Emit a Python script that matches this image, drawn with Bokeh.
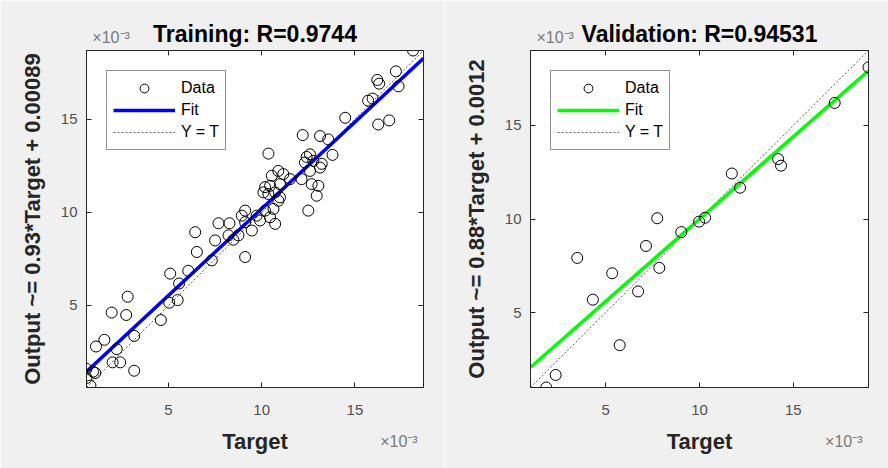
from bokeh.plotting import figure
from bokeh.models import Range1d, FixedTicker, LinearAxis, Legend, LegendItem
from bokeh.layouts import row
from bokeh.embed import file_html
from bokeh.resources import INLINE

# all values are in units of 1e-3
train_target = [18.12, 17.20, 16.20, 16.30, 17.34, 15.71, 15.95, 16.25, 16.84, 14.48,
                12.20, 13.13, 13.57, 10.36, 12.59, 12.41, 13.80, 12.32, 12.77, 13.22,
                13.13, 12.59, 10.89, 11.16, 10.54, 11.52, 12.14, 10.18, 10.45, 10.98,
                10.09, 12.68, 13.04, 12.95, 10.72, 10.98, 12.50, 10.36, 10.63, 10.89,
                10.45, 9.11, 9.73, 10.18, 9.91, 10.72, 8.93, 9.11, 9.47, 7.68,
                8.27, 8.48, 8.22, 8.75, 7.50, 6.43, 6.52, 7.32, 9.11, 6.06,
                5.09, 5.57, 5.49, 5.04, 4.59, 2.81, 1.95, 2.73, 3.16, 1.56,
                1.11, 2.22, 2.00, 2.41, 3.16, 0.60, 0.60, 0.81, 1.07, 0.95]
train_output = [18.68, 17.56, 17.10, 16.90, 16.76, 15.99, 16.10, 14.71, 14.93, 15.07,
                14.14, 14.09, 13.91, 13.15, 13.11, 12.97, 13.08, 12.67, 12.76, 12.60,
                12.40, 12.22, 12.22, 12.05, 11.96, 11.78, 11.78, 11.35, 11.42, 11.51,
                11.07, 11.51, 11.42, 10.89, 11.07, 10.80, 10.09, 10.98, 10.18, 10.62,
                9.73, 10.09, 9.82, 10.09, 9.56, 9.38, 9.82, 9.47, 9.02, 9.41,
                9.41, 8.53, 8.76, 8.76, 8.49, 8.93, 7.87, 7.42, 7.60, 6.86,
                6.71, 6.18, 5.29, 5.15, 4.22, 5.47, 4.62, 4.49, 3.37, 3.16,
                2.80, 2.66, 1.95, 1.95, 1.50, 1.60, 1.11, 0.70, 1.38, 1.45]

val_target = [19.00, 17.20, 14.19, 14.34, 11.72, 12.16, 10.30, 9.98, 9.03, 7.75,
              7.15, 7.86, 3.49, 5.35, 6.73, 4.32, 5.75, 2.34, 1.84]
val_output = [18.10, 16.20, 13.20, 12.85, 12.43, 11.67, 10.07, 9.86, 9.30, 10.04,
              8.56, 7.39, 7.92, 7.10, 6.13, 5.69, 3.26, 1.67, 1.00]

train_fit = (0.93, 0.89)   # slope, intercept (x1e-3)
val_fit = (0.88, 1.2)
tick_values = [5, 10, 15]
titles = ["Training: R=0.9744", "Validation: R=0.94531"]
ylabels = ["Output ~= 0.93*Target + 0.00089", "Output ~= 0.88*Target + 0.0012"]
xlabel = "Target"
legend_labels = ["Data", "Fit", "Y = T"]
exponent_text = "\u00d710\u207b\u00b3"
fit_colors = ["#0000ff", "#00ff00"]

FONT = "Liberation Sans"
AX = "#262626"
EXP_FRAC = 0.073   # exponent label centre, as fraction of the axis span from the corner


def style_axis(ax, ticks, show_labels=True, standoff=9):
    ax.ticker = FixedTicker(ticks=ticks)
    ax.major_tick_in = 5
    ax.major_tick_out = 0
    ax.minor_tick_in = 0
    ax.minor_tick_out = 0
    ax.axis_line_color = AX
    ax.major_tick_line_color = AX
    ax.major_label_text_font = FONT
    if show_labels:
        ax.major_label_text_font_size = "15px"
        ax.major_label_text_color = "#505050"
        ax.major_label_standoff = standoff
    else:
        ax.major_label_text_font_size = "0px"
        ax.major_label_text_alpha = 0
        ax.major_label_standoff = 0


def exp_axis(pos, label_standoff):
    ax = LinearAxis(ticker=FixedTicker(ticks=[pos]),
                    major_label_overrides={pos: exponent_text},
                    major_tick_in=0, major_tick_out=0, minor_tick_in=0, minor_tick_out=0,
                    axis_line_color=None, major_tick_line_color=None,
                    major_label_text_font=FONT, major_label_text_font_size="16px",
                    major_label_text_color="#7a7a7a", major_label_standoff=label_standoff)
    return ax


def bold_label(ax, text, color, standoff, size="22px"):
    ax.axis_label = text
    ax.axis_label_text_font = FONT
    ax.axis_label_text_font_size = size
    ax.axis_label_text_font_style = "bold"
    ax.axis_label_text_color = color
    ax.axis_label_standoff = standoff


def panel(t, o, fit, title, ylabel, color, borders):
    lo = min(min(t), min(o))
    hi = max(max(t), max(o))
    bl, br, bt, bb = borders
    p = figure(width=444, height=468, x_range=Range1d(lo, hi), y_range=Range1d(lo, hi),
               output_backend="svg", toolbar_location=None,
               min_border_left=bl, min_border_right=br, min_border_top=bt, min_border_bottom=bb,
               background_fill_color="white", border_fill_color="#f0f0f0",
               outline_line_color=AX, outline_line_width=1)
    p.xgrid.visible = False
    p.ygrid.visible = False

    style_axis(p.xaxis[0], tick_values, True, 17)
    style_axis(p.yaxis[0], tick_values, True, 9)
    bold_label(p.yaxis[0], ylabel, AX, 13)

    top = LinearAxis()
    style_axis(top, tick_values, False)
    p.add_layout(top, "above")
    right = LinearAxis()
    style_axis(right, tick_values, False)
    p.add_layout(right, "right")

    span = hi - lo
    top_exp = exp_axis(lo + EXP_FRAC * span, 5)
    bold_label(top_exp, title, "black", -21, "23px")
    p.add_layout(top_exp, "above")

    bottom_exp = exp_axis(hi - EXP_FRAC * span, 15)
    bold_label(bottom_exp, xlabel, AX, -24)
    p.add_layout(bottom_exp, "below")

    slope, icpt = fit
    ends = [lo, hi]
    r_id = p.line(ends, ends, line_color="#606060", line_width=1, line_dash="2 2")
    r_fit = p.line(ends, [slope * v + icpt for v in ends], line_color=color, line_width=3.5)
    r_data = p.scatter(t, o, marker="circle", size=11, fill_color=None,
                       line_color="black", line_width=1)

    leg = Legend(items=[LegendItem(label=legend_labels[0], renderers=[r_data]),
                        LegendItem(label=legend_labels[1], renderers=[r_fit]),
                        LegendItem(label=legend_labels[2], renderers=[r_id])],
                 location="top_left", margin=20, padding=6, spacing=0,
                 glyph_width=62, glyph_height=22, label_height=17, label_standoff=6,
                 label_text_font=FONT, label_text_font_size="16px", label_text_color="black",
                 border_line_color=AX, border_line_width=1,
                 background_fill_color="white", background_fill_alpha=1)
    p.add_layout(leg, "center")
    return p


p1 = panel(train_target, train_output, train_fit, titles[0], ylabels[0], fit_colors[0],
           (86, 21, 49, 81))
p2 = panel(val_target, val_output, val_fit, titles[1], ylabels[1], fit_colors[1],
           (86, 20, 50, 80))
p = row(p1, p2)

open("out.html", "w").write(file_html(p, INLINE))
